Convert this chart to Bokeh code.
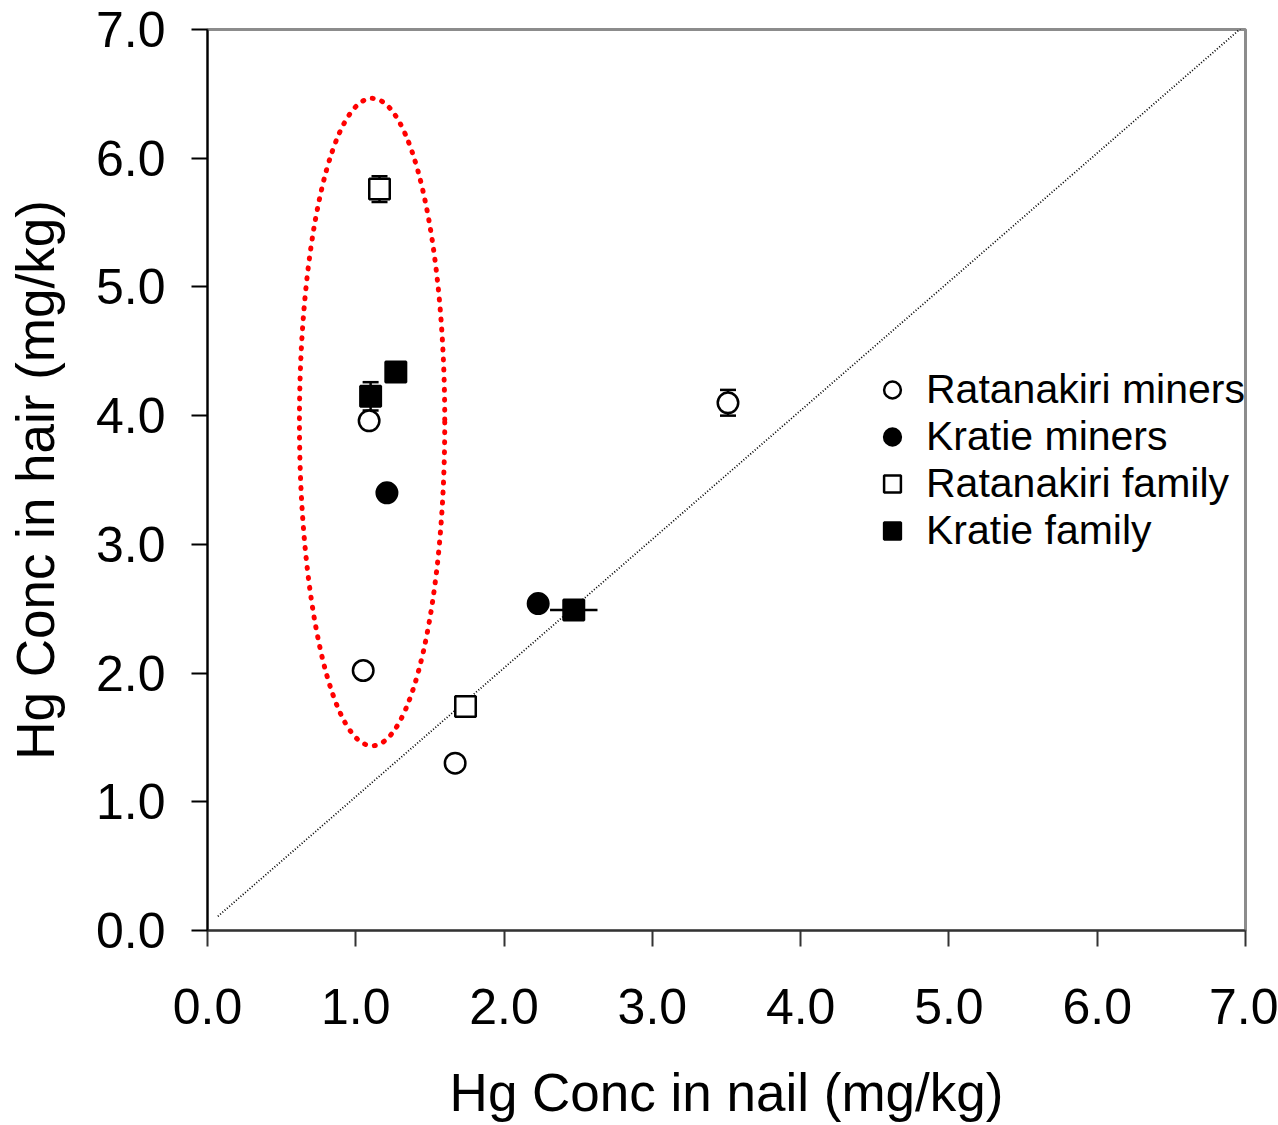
from bokeh.plotting import figure
from bokeh.models import (ColumnDataSource, Whisker, TeeHead, FixedTicker,
                          Legend, LegendItem, NumeralTickFormatter)
from bokeh.embed import file_html
from bokeh.resources import INLINE

# Hg concentrations (mg/kg): nail (x) vs hair (y)
rat_miners_x = [1.09, 1.05, 1.67, 3.51]
rat_miners_y = [3.96, 2.02, 1.30, 4.10]
rat_miners_yerr = [0.0, 0.0, 0.0, 0.10]

kra_miners_x = [1.21, 2.23]
kra_miners_y = [3.40, 2.54]

rat_family_x = [1.16, 1.74]
rat_family_y = [5.76, 1.74]
rat_family_yerr = [0.10, 0.0]

kra_family_x = [1.10, 1.27, 2.47]
kra_family_y = [4.15, 4.34, 2.49]
kra_family_yerr = [0.11, 0.0, 0.0]
kra_family_xerr = [0.0, 0.0, 0.16]

# 1:1 reference line
ref_x = [0.07, 7.0]
ref_y = [0.11, 7.04]

# highlighted cluster (ellipse centre, width, height)
ell_x = [1.11]
ell_y = [3.95]
ell_w = [0.98]
ell_h = [5.03]

tick_values = [0, 1, 2, 3, 4, 5, 6, 7]

FONT = "Liberation Sans"

p = figure(width=1278, height=1125, x_range=(0, 7), y_range=(0, 7),
           output_backend="svg", toolbar_location=None,
           min_border_left=207, min_border_right=33,
           min_border_top=29, min_border_bottom=195)
p.background_fill_color = "white"
p.border_fill_color = "white"
p.grid.visible = False
p.outline_line_color = "#8c8c8c"
p.outline_line_width = 3

for ax in (p.xaxis[0], p.yaxis[0]):
    ax.ticker = FixedTicker(ticks=tick_values)
    ax.formatter = NumeralTickFormatter(format="0.0")
    ax.major_tick_in = 0
    ax.major_tick_out = 16
    ax.minor_tick_in = 0
    ax.minor_tick_out = 0
    ax.major_tick_line_width = 2
    ax.axis_line_width = 2
    ax.major_label_text_font = FONT
    ax.major_label_text_font_size = "50px"
    ax.major_label_text_color = "black"
    ax.axis_label_text_font = FONT
    ax.axis_label_text_font_size = "53px"
    ax.axis_label_text_font_style = "normal"
    ax.axis_label_text_color = "black"

p.xaxis.axis_label = "Hg Conc in nail (mg/kg)"
p.yaxis.axis_label = "Hg Conc in hair (mg/kg)"
p.xaxis.axis_line_color = "#333333"
p.xaxis.major_tick_line_color = "#333333"
p.yaxis.axis_line_color = "black"
p.yaxis.major_tick_line_color = "black"
p.xaxis.major_label_standoff = 42
p.yaxis.major_label_standoff = 26
p.xaxis.axis_label_standoff = 36
p.yaxis.axis_label_standoff = 28

# dotted 1:1 line
p.line(ref_x, ref_y, line_color="black", line_width=1.8, line_dash="1 2")

# red dotted ellipse around the cluster
ell_src = ColumnDataSource(dict(x=ell_x, y=ell_y, w=ell_w, h=ell_h))
p.ellipse(x="x", y="y", width="w", height="h", source=ell_src,
          fill_color=None, line_color="#ff0000", line_width=5,
          line_dash="1 9", line_cap="round")


def errbars(xs, ys, err, dim, heads=True):
    idx = [i for i, e in enumerate(err) if e > 0]
    if not idx:
        return
    if dim == "height":
        src = ColumnDataSource(dict(
            base=[xs[i] for i in idx],
            lower=[ys[i] - err[i] for i in idx],
            upper=[ys[i] + err[i] for i in idx]))
    else:
        src = ColumnDataSource(dict(
            base=[ys[i] for i in idx],
            lower=[xs[i] - err[i] for i in idx],
            upper=[xs[i] + err[i] for i in idx]))
    w = Whisker(source=src, base="base", lower="lower", upper="upper",
                dimension=dim, line_color="black", line_width=2.5,
                level="underlay")
    if heads:
        w.upper_head = TeeHead(size=16, line_color="black", line_width=2.5)
        w.lower_head = TeeHead(size=16, line_color="black", line_width=2.5)
    else:
        w.upper_head = None
        w.lower_head = None
    p.add_layout(w)


errbars(rat_miners_x, rat_miners_y, rat_miners_yerr, "height")
errbars(rat_family_x, rat_family_y, rat_family_yerr, "height")
errbars(kra_family_x, kra_family_y, kra_family_yerr, "height")
errbars(kra_family_x, kra_family_y, kra_family_xerr, "width", heads=False)

MS = 20.5
r_kf = p.scatter(kra_family_x, kra_family_y, marker="square", size=MS,
                 fill_color="black", line_color="black", line_width=2.5)
r_rf = p.scatter(rat_family_x, rat_family_y, marker="square", size=MS,
                 fill_color="white", line_color="black", line_width=2.5)
r_km = p.scatter(kra_miners_x, kra_miners_y, marker="circle", size=MS,
                 fill_color="black", line_color="black", line_width=2.5)
r_rm = p.scatter(rat_miners_x, rat_miners_y, marker="circle", size=MS,
                 fill_color="white", line_color="black", line_width=2.5)

legend = Legend(items=[
    LegendItem(label="Ratanakiri miners", renderers=[r_rm]),
    LegendItem(label="Kratie miners", renderers=[r_km]),
    LegendItem(label="Ratanakiri family", renderers=[r_rf]),
    LegendItem(label="Kratie family", renderers=[r_kf]),
], location=(664, 376))
legend.label_text_font = FONT
legend.label_text_font_size = "41px"
legend.label_text_color = "black"
legend.glyph_width = 42
legend.glyph_height = 47
legend.label_height = 47
legend.label_standoff = 13
legend.spacing = 0
legend.padding = 0
legend.margin = 0
legend.border_line_alpha = 0
legend.background_fill_alpha = 0
p.add_layout(legend)

open("out.html", "w").write(file_html(p, INLINE))
